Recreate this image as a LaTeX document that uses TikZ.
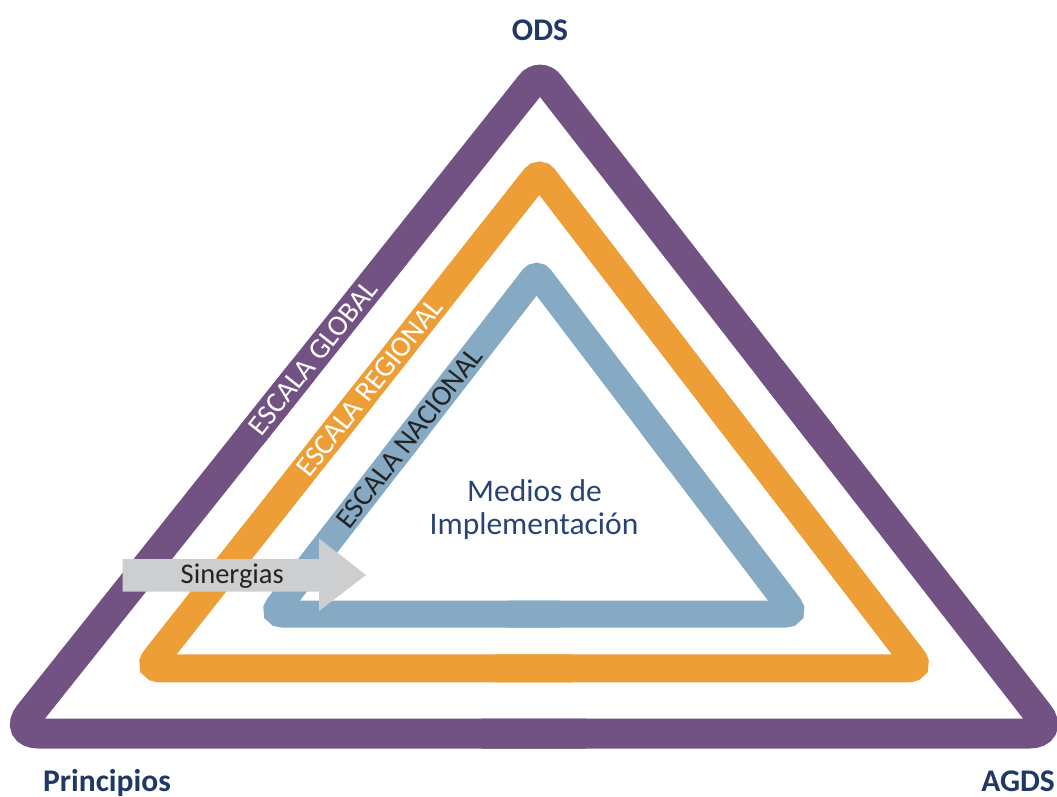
\documentclass[tikz,border=0pt]{standalone}
\usepackage{fontspec}
\setmainfont{Carlito}
\usetikzlibrary{calc}
\definecolor{cpurple}{RGB}{113,82,131}
\definecolor{corange}{RGB}{237,158,54}
\definecolor{cblue}{RGB}{135,170,196}
\definecolor{cnavy}{RGB}{31,56,100}
\definecolor{cmedios}{RGB}{40,68,116}
\definecolor{cgray}{RGB}{205,206,208}
\definecolor{ctext}{RGB}{35,35,35}
\begin{document}
\begin{tikzpicture}[x=1pt,y=-1pt,
  ringside/.style={line width=#1, line cap=butt},
  corner/.style={rounded corners=#1},
  lab/.style={inner sep=0pt, text=cnavy, font=\fontsize{31.5}{36}\selectfont\bfseries},
  scale label/.style={inner sep=0pt, font=\fontsize{29}{34}\selectfont},
  medios/.style={inner sep=0pt, text=cmedios, font=\fontsize{31.5}{36}\selectfont},
  sinergia/.style={inner sep=0pt, text=ctext, font=\fontsize{28.5}{34}\selectfont}]
\useasboundingbox (0,0) rectangle (1057,796);
\fill[white] (0,0) rectangle (1057,796);

% centre-line vertices of the three bands
\coordinate (pA) at (540.1,72.7);
\coordinate (pB) at (13.9,733.5);
\coordinate (pC) at (1053.7,733.5);
\coordinate (oA) at (539.45,172.2);
\coordinate (oB) at (147.8,668.3);
\coordinate (oC) at (920.1,668.3);
\coordinate (bA) at (536.7,273.5);
\coordinate (bB) at (272.4,614);
\coordinate (bC) at (795.2,614);

% purple band
\begin{scope}[draw=cpurple]
\draw[ringside=30pt, corner=15.2pt] ($(pA)!0.55!(pB)$) -- (pA) -- ($(pA)!0.55!(pC)$);
\draw[ringside=30pt, corner=24.9pt] ($(pB)!0.55!(pA)$) -- (pB) -- ($(pB)!0.55!(pC)$);
\draw[ringside=30pt, corner=24.5pt] ($(pC)!0.55!(pB)$) -- (pC) -- ($(pC)!0.55!(pA)$);
\end{scope}
% orange band
\begin{scope}[draw=corange]
\draw[ringside=28pt, corner=7.7pt] ($(oA)!0.55!(oB)$) -- (oA) -- ($(oA)!0.55!(oC)$);
\draw[ringside=28pt, corner=12.4pt] ($(oB)!0.55!(oA)$) -- (oB) -- ($(oB)!0.55!(oC)$);
\draw[ringside=28pt, corner=12.2pt] ($(oC)!0.55!(oB)$) -- (oC) -- ($(oC)!0.55!(oA)$);
\end{scope}
% blue band
\begin{scope}[draw=cblue]
\draw[ringside=27pt, corner=6.5pt] ($(bA)!0.55!(bB)$) -- (bA) -- ($(bA)!0.55!(bC)$);
\draw[ringside=27pt, corner=10.2pt] ($(bB)!0.55!(bA)$) -- (bB) -- ($(bB)!0.55!(bC)$);
\draw[ringside=27pt, corner=10.1pt] ($(bC)!0.55!(bB)$) -- (bC) -- ($(bC)!0.55!(bA)$);
\end{scope}

% band labels
\node[scale label, text=white, rotate=51.47] (global) at ($(pB)!0.569!(pA)$) {ESCALA GLOBAL};
\node[scale label, text=white, rotate=51.71] (regional) at ($(oB)!0.566!(oA)$) {ESCALA REGIONAL};
\node[scale label, text=ctext, rotate=52.18] (nacional) at ($(bB)!0.518!(bA)$) {ESCALA NACIONAL};

% Sinergias arrow
\fill[cgray] (122.7,559) -- (319,559) -- (319,538.5) -- (366,575) -- (319,611) -- (319,591.5) -- (122.7,591.5) -- cycle;
\node[sinergia, anchor=base west] (sin) at (180.5,583.5) {Sinergias};

% centre text
\node[medios, anchor=base] (med1) at (534.5,501) {Medios de};
\node[medios, anchor=base] (med2) at (534,534) {Implementación};

% corner labels
\node[lab, anchor=base] (ods) at (540,40.5) {ODS};
\node[lab, anchor=base west] (prin) at (43,791.7) {Principios};
\node[lab, anchor=base east] (agds) at (1055,791.7) {AGDS};
\end{tikzpicture}
\end{document}
